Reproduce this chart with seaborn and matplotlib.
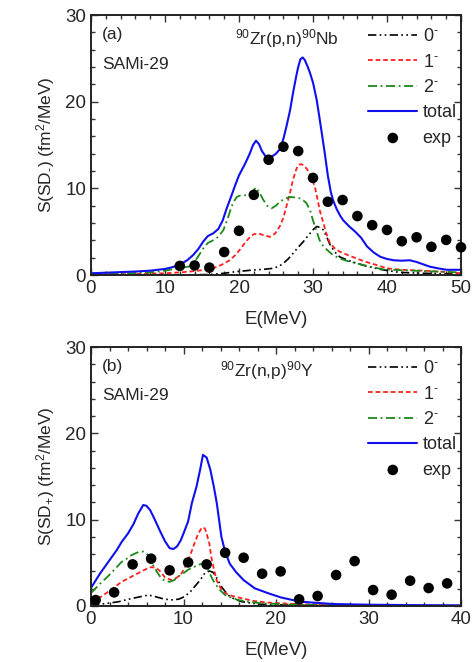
import numpy as np
import pandas as pd
import matplotlib
matplotlib.use("Agg")
import matplotlib.pyplot as plt
from matplotlib.ticker import MultipleLocator
import seaborn as sns

# ---------------- panel (a): 90Zr(p,n)90Nb ----------------
a_total_E = [0, 3, 6, 8, 10, 11, 12, 13, 13.8, 14.5, 15.2, 15.8, 16.5, 17.2, 17.8, 18.3,
             19.0, 19.5, 20.0, 20.8, 21.4, 21.9, 22.3, 22.7, 23.1, 23.5, 24.0, 24.5, 25.0,
             25.5, 26.0, 26.4, 26.9, 27.3, 27.7, 28.0, 28.3, 28.6, 28.9, 29.3, 29.6, 30.0,
             30.5, 30.9, 31.2, 31.6, 32.0, 32.4, 32.7, 33.2, 33.7, 34.1, 34.9, 35.7, 36.5,
             37.3, 38.2, 39.1, 40.0, 40.9, 42.0, 43.1, 44.0, 45.0, 45.8, 47.0, 48.1, 50]
a_total_S = [0.2, 0.3, 0.4, 0.5, 0.7, 0.9, 1.2, 1.7, 2.3, 3.0, 3.9, 4.5, 4.8, 5.3, 6.3, 7.6,
             9.2, 10.4, 11.5, 12.8, 13.9, 15.0, 15.5, 15.1, 14.3, 13.8, 13.5, 13.7, 14.0,
             14.5, 15.7, 17.1, 19.0, 21.0, 22.8, 24.0, 24.9, 25.1, 24.8, 24.0, 23.3, 22.2,
             20.2, 18.0, 16.3, 14.0, 11.5, 9.6, 8.65, 7.6, 6.8, 6.3, 5.6, 5.0, 4.3,
             3.3, 2.6, 2.1, 1.85, 1.7, 1.65, 1.7, 1.5, 1.2, 0.96, 0.75, 0.6, 0.6]

a_J1_E = [0, 5, 10, 12, 13.4, 15, 16.5, 17.7, 18.8, 19.5, 20.1, 20.8, 21.5, 22.0, 22.6,
          23.3, 24.2, 24.9, 25.5, 26.0, 26.4, 26.9, 27.3, 27.7, 28.0, 28.4, 28.8, 29.2,
          29.6, 30.0, 30.3, 30.6, 30.9, 31.4, 31.8, 32.3, 32.9, 33.6, 34.7, 35.9, 37.2,
          38.6, 40, 42, 45, 48, 50]
a_J1_S = [0.05, 0.1, 0.2, 0.3, 0.4, 0.55, 0.77, 1.2, 1.73, 2.3, 2.9, 3.7, 4.4, 4.7, 4.8,
          4.6, 4.4, 4.8, 5.6, 6.6, 7.9, 9.5, 11.0, 12.1, 12.7, 12.8, 12.6, 12.2,
          11.6, 10.8, 10.0, 8.8, 7.5, 6.0, 4.8, 3.65, 3.1, 2.7, 2.3, 1.9, 1.5,
          1.15, 0.77, 0.6, 0.5, 0.35, 0.2]

a_J2_E = [0, 5, 8, 10, 12, 13.4, 14.3, 15.2, 15.8, 16.5, 17.2, 17.9, 18.5, 19.0, 19.4,
          19.7, 20.1, 20.6, 21.2, 21.7, 22.0, 22.3, 22.7, 23.3, 23.8, 24.4, 25.0, 25.5,
          26.2, 26.9, 27.6, 28.2, 28.7, 29.1, 29.6, 30.0, 30.5, 30.9, 31.4, 31.9, 32.7,
          33.6, 34.7, 35.9, 37.5, 39.5, 42, 45, 48, 50]
a_J2_S = [0.1, 0.2, 0.3, 0.5, 0.8, 1.0, 1.9, 3.1, 3.7, 4.0, 4.4, 5.2, 6.6, 7.9, 8.6,
          9.0, 9.15, 9.2, 9.2, 9.4, 9.8, 10.1, 9.6, 8.65, 8.0, 7.7, 8.0, 8.45,
          8.8, 9.0, 8.95, 8.85, 8.6, 8.3, 7.5, 6.3, 5.0, 4.0, 3.3, 2.9, 2.3,
          1.9, 1.6, 1.35, 1.0, 0.65, 0.55, 0.45, 0.35, 0.3]

a_J0_E = [0, 10, 16, 18, 19.7, 21.0, 21.9, 23.3, 24.6, 25.4, 26.0, 26.7, 27.3, 28.0, 28.7,
          29.2, 29.6, 30.1, 30.5, 30.9, 31.4, 31.9, 32.3, 32.9, 33.6, 34.7, 35.9, 37.5,
          39.4, 41.7, 45, 50]
a_J0_S = [0.0, 0.0, 0.05, 0.2, 0.4, 0.5, 0.58, 0.65, 0.77, 1.0, 1.35, 1.9, 2.5, 3.2, 3.85,
          4.4, 4.8, 5.3, 5.6, 5.5, 5.2, 4.3, 3.5, 2.7, 2.1, 1.7, 1.35, 0.95,
          0.6, 0.3, 0.2, 0.1]

a_exp_E = [12, 14, 16, 18, 20, 22, 24, 26, 28, 30, 32, 34, 36, 38, 40, 42, 44, 46, 48, 50]
a_exp_S = [1.05, 1.1, 0.85, 2.65, 5.1, 9.25, 13.3, 14.8, 14.3, 11.2, 8.45, 8.65, 6.8,
           5.75, 5.2, 3.9, 4.35, 3.25, 4.05, 3.2]

# ---------------- panel (b): 90Zr(n,p)90Y ----------------
b_total_E = [0, 1.0, 1.8, 2.8, 3.3, 4.0, 4.6, 5.1, 5.65, 6.0, 6.4, 6.9, 7.5, 8.0, 8.5, 8.9,
             9.3, 9.7, 10.0, 10.5, 10.9, 11.4, 11.8, 12.1, 12.5, 12.9, 13.3, 13.6, 14.1,
             14.5, 15.0, 15.7, 16.5, 17.7, 19.1, 20.5, 22.6, 26.2, 30, 35, 40]
b_total_S = [2.1, 3.8, 5.0, 6.5, 7.4, 8.4, 9.5, 10.7, 11.7, 11.6, 11.1, 10.0, 8.6, 7.5, 6.7,
             6.6, 6.9, 7.6, 8.4, 9.8, 11.9, 13.8, 15.8, 17.5, 17.2, 15.8, 13.7, 11.9, 8.0,
             6.3, 4.9, 3.9, 3.0, 2.05, 1.5, 1.0, 0.5, 0.23, 0.15, 0.1, 0.08]

b_J1_E = [0, 1.1, 2.2, 3.3, 4.2, 5.1, 5.8, 6.5, 7.0, 7.5, 8.0, 8.7, 9.3, 9.8, 10.3, 10.8,
          11.2, 11.6, 12.0, 12.3, 12.5, 12.8, 13.0, 13.3, 13.6, 14.0, 14.5, 15.3, 16.3,
          17.5, 19.1, 22.6, 30, 40]
b_J1_S = [0.5, 1.08, 1.9, 2.8, 3.3, 3.8, 4.2, 4.5, 4.45, 4.0, 3.3, 3.0, 3.3, 3.8, 4.8, 6.1,
          7.3, 8.4, 9.1, 9.0, 8.4, 7.2, 5.7, 4.2, 2.9, 2.1, 1.5, 1.15, 0.9,
          0.6, 0.4, 0.2, 0.05, 0.0]

b_J2_E = [0, 0.9, 1.8, 2.6, 3.3, 3.9, 4.4, 4.9, 5.3, 5.7, 6.0, 6.4, 6.7, 7.1, 7.6, 8.0,
          8.5, 9.0, 9.4, 10.0, 10.5, 11.1, 11.6, 12.1, 12.4, 12.65, 13.0, 13.4, 13.9,
          14.5, 15.2, 15.9, 17, 18.4, 22, 30, 40]
b_J2_S = [1.5, 2.5, 3.4, 4.3, 5.1, 5.5, 5.9, 6.15, 6.3, 6.3, 6.1, 5.5, 4.75, 4.0, 3.2, 2.9,
          2.8, 3.0, 3.4, 3.8, 4.2, 4.5, 4.75, 4.95, 4.8, 4.2, 3.4, 2.6, 1.9,
          1.27, 0.95, 0.7, 0.5, 0.31, 0.15, 0.05, 0.0]

b_J0_E = [0, 1.8, 3.0, 4.0, 5.0, 6.2, 6.9, 7.6, 8.3, 8.9, 9.5, 10.1, 10.7, 11.2, 11.8,
          12.3, 12.8, 13.2, 13.5, 14.1, 14.8, 15.5, 16.3, 17.5, 19.1, 25, 40]
b_J0_S = [0.1, 0.31, 0.5, 0.77, 1.0, 1.27, 1.1, 0.89, 0.75, 0.7, 0.8, 1.08, 1.6, 2.24, 3.0,
          3.8, 4.05, 3.9, 3.4, 2.24, 1.27, 0.8, 0.5, 0.3, 0.15, 0.05, 0.0]

b_exp_E = [0.5, 2.5, 4.5, 6.5, 8.5, 10.5, 12.5, 14.5, 16.5, 18.5, 20.5, 22.5, 24.5,
           26.5, 28.5, 30.5, 32.5, 34.5, 36.5, 38.5]
b_exp_S = [0.69, 1.58, 4.82, 5.48, 4.13, 5.05, 4.82, 6.17, 5.59, 3.74, 4.01, 0.77, 1.16,
           3.59, 5.2, 1.85, 1.31, 2.93, 2.08, 2.62]

comp_labels = ["0$^{\\text{-}}$", "1$^{\\text{-}}$", "2$^{\\text{-}}$", "total", "exp"]

sns.set_style("ticks")
plt.rcParams["font.family"] = ["Liberation Sans", "DejaVu Sans"]
plt.rcParams["mathtext.fontset"] = "custom"
plt.rcParams["mathtext.rm"] = "Liberation Sans"
plt.rcParams["mathtext.it"] = "Liberation Sans"
plt.rcParams["mathtext.default"] = "regular"

fig = plt.figure(figsize=(4.72, 6.62), dpi=100)
ax_a = fig.add_axes([91 / 472, 1 - 275 / 662, 370 / 472, 260 / 662])
ax_b = fig.add_axes([91 / 472, 1 - 606 / 662, 370 / 472, 259 / 662])

styles = {
    "0": dict(color="black", lw=1.2, dashes=(5, 2, 1, 2, 1, 2)),
    "1": dict(color="#ff2020", lw=1.3, dashes=(2.6, 1.6)),
    "2": dict(color="#1a8a1a", lw=1.3, dashes=(5, 2, 1, 2)),
    "t": dict(color="#1010ee", lw=1.5),
}


def draw_panel(ax, curves, expE, expS, xmax, tag, reaction, ylabel, rx):
    keys = ["0", "1", "2", "t"]
    for key, (E, S), lab in zip(keys, curves, comp_labels[:4]):
        df = pd.DataFrame({"E": E, "S": S})
        st = styles[key]
        sns.lineplot(data=df, x="E", y="S", ax=ax, label=lab, sort=False,
                     estimator=None, color=st["color"], linewidth=st["lw"])
        ln = ax.get_lines()[-1]
        if "dashes" in st:
            ln.set_dashes(st["dashes"])
    dfe = pd.DataFrame({"E": expE, "S": expS})
    sns.scatterplot(data=dfe, x="E", y="S", ax=ax, color="black", s=58,
                    edgecolor="none", label=comp_labels[4], clip_on=False, zorder=5)

    ax.set_xlim(0, xmax)
    ax.set_ylim(0, 30)
    ax.xaxis.set_major_locator(MultipleLocator(10))
    ax.xaxis.set_minor_locator(MultipleLocator(2))
    ax.yaxis.set_major_locator(MultipleLocator(10))
    ax.yaxis.set_minor_locator(MultipleLocator(2))
    ax.tick_params(which="both", direction="in", top=True, right=True,
                   labelsize=13.5, width=1.0, color="#333333")
    ax.tick_params(which="major", length=5)
    ax.tick_params(which="minor", length=3)
    for sp in ax.spines.values():
        sp.set_linewidth(1.4)
        sp.set_color("#222222")
    ax.set_xlabel("E(MeV)", fontsize=13.5, labelpad=10)
    ax.set_ylabel(ylabel, fontsize=12.5, labelpad=6)

    ax.text(0.03, 0.955, tag, transform=ax.transAxes, fontsize=12.5, va="top")
    ax.text(0.03, 0.84, "SAMi-29", transform=ax.transAxes, fontsize=12.5, va="top")
    ax.text(rx, 0.955, reaction, transform=ax.transAxes, fontsize=12.5, va="top",
            ha="center")

    handles, labels = ax.get_legend_handles_labels()
    leg = ax.legend(handles, labels, loc="upper left", bbox_to_anchor=(0.74, 0.962),
                    frameon=False, fontsize=13, handlelength=2.7, handletextpad=0.3,
                    labelspacing=0.46, borderaxespad=0, borderpad=0.2)
    for h in leg.legend_handles:
        if hasattr(h, "set_sizes"):
            h.set_sizes([58])


draw_panel(ax_a, [(a_J0_E, a_J0_S), (a_J1_E, a_J1_S), (a_J2_E, a_J2_S),
                  (a_total_E, a_total_S)],
           a_exp_E, a_exp_S, 50, "(a)", "$^{90}$Zr(p,n)$^{90}$Nb",
           "S(SD$_{\\text{-}}$) (fm$^{2}$/MeV)", 0.53)
draw_panel(ax_b, [(b_J0_E, b_J0_S), (b_J1_E, b_J1_S), (b_J2_E, b_J2_S),
                  (b_total_E, b_total_S)],
           b_exp_E, b_exp_S, 40, "(b)", "$^{90}$Zr(n,p)$^{90}$Y",
           "S(SD$_{+}$) (fm$^{2}$/MeV)", 0.475)

fig.savefig("out.png", dpi=100)
